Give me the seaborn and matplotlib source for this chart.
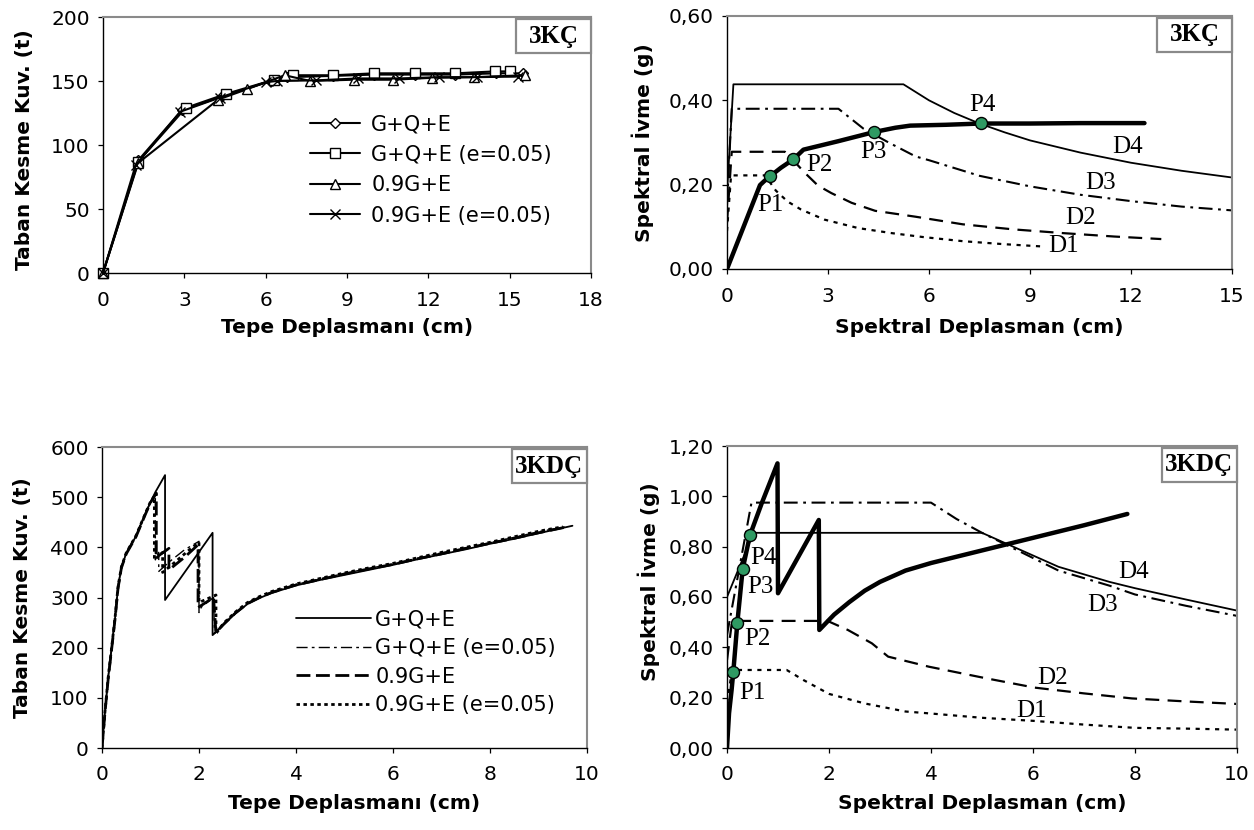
"""
Pushover and capacity-spectrum curves for the 3KÇ and 3KDÇ frames.
"""

import matplotlib
matplotlib.use("Agg")
import matplotlib.pyplot as plt
import matplotlib.ticker as mticker
from matplotlib.patches import Rectangle
import seaborn as sns

# ---------------- 3KÇ : base shear vs roof displacement ----------------
kc_gqe_x = [0, 1.3, 2.9, 4.4, 6.2, 6.8, 8.5, 10.0, 11.5, 13.0, 14.5, 15.5]
kc_gqe_y = [0, 88, 127, 138, 150, 153, 154, 155, 155, 155, 156, 156]
kc_gqe_e_x = [0, 1.3, 3.05, 4.55, 6.3, 7.0, 8.5, 10.0, 11.5, 13.0, 14.45, 15.0]
kc_gqe_e_y = [0, 87, 129, 140, 151, 154.5, 154.5, 156, 156, 156, 157.5, 157.5]
kc_09_x = [0, 1.3, 4.25, 5.3, 6.7, 7.65, 9.25, 10.7, 12.15, 13.7, 15.55]
kc_09_y = [0, 86, 135.5, 143.5, 154.5, 150, 151, 151, 152.5, 153, 154.5]
kc_09_e_x = [0, 1.2, 2.85, 4.3, 6.0, 6.4, 7.85, 9.4, 10.9, 12.4, 13.8, 15.3]
kc_09_e_y = [0, 84, 126, 137, 149, 150, 150.5, 152, 152, 153, 153, 153.5]

# ---------------- 3KÇ : capacity spectrum ----------------
kc_d4_x = [0, 0.19, 5.24, 6.0, 6.75, 7.5, 8.25, 9.0, 10.5, 12.0, 13.5, 15.0]
kc_d4_y = [0.18, 0.438, 0.438, 0.400, 0.370, 0.345, 0.324, 0.305, 0.276, 0.252, 0.233, 0.217]
kc_d3_x = [0, 0.14, 3.31, 3.5, 4.05, 4.8, 5.6, 6.0, 7.5, 9.0, 10.5, 12.0, 13.5, 15.0]
kc_d3_y = [0.15, 0.380, 0.380, 0.368, 0.333, 0.300, 0.267, 0.258, 0.221, 0.196, 0.176, 0.161, 0.148, 0.139]
kc_d2_x = [0, 0.14, 1.72, 2.0, 2.3, 2.7, 3.1, 3.7, 4.4, 5.6, 7.0, 8.5, 10.0, 11.5, 12.9]
kc_d2_y = [0.11, 0.278, 0.278, 0.255, 0.229, 0.198, 0.180, 0.157, 0.138, 0.124, 0.106, 0.094, 0.085, 0.077, 0.071]
kc_d1_x = [0, 0.12, 1.13, 1.45, 1.8, 2.2, 2.9, 3.9, 4.9, 5.8, 7.0, 8.2, 9.46]
kc_d1_y = [0.09, 0.222, 0.222, 0.186, 0.160, 0.141, 0.117, 0.097, 0.085, 0.076, 0.066, 0.059, 0.053]
kc_cap_x = [0, 0.98, 1.1, 1.28, 1.6, 1.97, 2.27, 3.3, 4.38, 5.0, 5.44, 6.5, 7.54, 9.0, 10.5, 12.4]
kc_cap_y = [0, 0.199, 0.208, 0.220, 0.240, 0.260, 0.283, 0.303, 0.325, 0.335, 0.340, 0.342, 0.345, 0.345, 0.346, 0.346]
kc_pt_x = [1.28, 1.97, 4.38, 7.54]
kc_pt_y = [0.220, 0.260, 0.325, 0.346]

# ---------------- 3KDÇ : base shear vs roof displacement ----------------
kdc_s1_x = [0, 0.06, 0.13, 0.2, 0.27, 0.33, 0.4, 0.5, 0.6, 0.7, 0.8, 0.9, 1.0, 1.1, 1.2, 1.3,
            1.3, 1.6, 1.9, 2.28, 2.28, 2.5, 2.75, 3.0, 3.25, 3.5, 4.0, 4.5, 5.0, 5.5, 6.0,
            6.5, 7.0, 7.5, 8.0, 8.5, 9.0, 9.7]
kdc_s1_y = [0, 70, 142, 200, 260, 320, 360, 388, 405, 422, 445, 468, 490, 510, 527, 544,
            295, 336, 377, 429, 225, 245, 268, 287, 299, 309, 324, 335, 345, 355, 365,
            376, 386, 396, 407, 417, 428, 443]
kdc_s2_x = [0, 0.06, 0.13, 0.2, 0.27, 0.33, 0.4, 0.5, 0.6, 0.7, 0.8, 0.9, 1.0, 1.1,
            1.1, 1.17, 1.17, 1.4, 1.7, 2.0, 2.0, 2.05, 2.3, 2.32, 2.5, 2.75, 3.0, 3.25,
            3.5, 4.0, 4.5, 5.0, 5.5, 6.0, 6.5, 7.0, 7.5, 8.0, 8.5, 9.0, 9.6]
kdc_s2_y = [0, 72, 145, 203, 262, 322, 362, 390, 407, 424, 447, 470, 490, 506,
            375, 390, 352, 372, 395, 412, 270, 281, 300, 228, 247, 270, 289, 301,
            311, 326, 337, 348, 358, 367, 378, 389, 399, 409, 420, 431, 442]
kdc_s3_x = [0, 0.06, 0.13, 0.2, 0.27, 0.33, 0.4, 0.5, 0.6, 0.7, 0.8, 0.9, 1.0, 1.12,
            1.12, 1.38, 1.38, 1.7, 1.98, 1.98, 2.3, 2.35, 2.5, 2.75, 3.0, 3.25, 3.5,
            4.0, 4.5, 5.0, 5.5, 6.0, 6.5, 7.0, 7.5, 8.0, 8.5, 9.0, 9.6]
kdc_s3_y = [0, 69, 140, 198, 258, 318, 359, 387, 404, 421, 444, 467, 489, 508,
            380, 398, 355, 380, 405, 280, 300, 230, 246, 269, 288, 300, 310,
            325, 336, 347, 357, 366, 377, 387, 398, 408, 418, 429, 441]
kdc_s4_x = [0, 0.06, 0.13, 0.2, 0.27, 0.33, 0.4, 0.5, 0.6, 0.7, 0.8, 0.9, 1.0, 1.08,
            1.08, 1.25, 1.25, 1.5, 1.8, 2.0, 2.0, 2.35, 2.35, 2.5, 2.75, 3.0, 3.25, 3.5,
            4.0, 4.5, 5.0, 5.5, 6.0, 6.5, 7.0, 7.5, 8.0, 8.5, 9.0, 9.5]
kdc_s4_y = [0, 71, 143, 201, 261, 321, 361, 389, 406, 423, 446, 469, 491, 502,
            375, 390, 350, 370, 395, 410, 290, 305, 228, 248, 271, 290, 302, 312,
            327, 338, 349, 359, 368, 379, 390, 400, 410, 421, 432, 441]

# ---------------- 3KDÇ : capacity spectrum ----------------
kdc_d4_x = [0, 0.52, 5.0, 5.5, 6.0, 6.5, 7.0, 7.5, 8.0, 9.0, 10.0]
kdc_d4_y = [0.60, 0.855, 0.855, 0.81, 0.765, 0.72, 0.69, 0.66, 0.635, 0.59, 0.546]
kdc_d3_x = [0, 0.48, 4.0, 4.5, 5.0, 5.5, 6.0, 6.5, 7.0, 7.5, 8.0, 9.0, 10.0]
kdc_d3_y = [0.45, 0.975, 0.975, 0.91, 0.855, 0.805, 0.755, 0.705, 0.675, 0.645, 0.61, 0.565, 0.525]
kdc_d2_x = [0, 0.1, 1.97, 2.37, 2.84, 3.16, 3.96, 5.08, 6.03, 7.0, 7.94, 9.0, 10.0]
kdc_d2_y = [0.35, 0.505, 0.505, 0.469, 0.416, 0.363, 0.323, 0.277, 0.240, 0.217, 0.197, 0.185, 0.175]
kdc_d1_x = [0, 0.1, 1.17, 1.5, 2.0, 2.7, 3.5, 4.0, 5.0, 6.0, 7.0, 8.0, 9.0, 10.0]
kdc_d1_y = [0.18, 0.31, 0.31, 0.27, 0.215, 0.177, 0.145, 0.137, 0.12, 0.108, 0.093, 0.08, 0.077, 0.073]
kdc_cap_x = [0, 0.04, 0.09, 0.124, 0.203, 0.307, 0.451, 0.68, 0.99, 1.0, 1.80, 1.81, 2.1,
             2.4, 2.7, 3.0, 3.5, 4.0, 5.0, 6.0, 7.0, 7.85]
kdc_cap_y = [0, 0.138, 0.23, 0.303, 0.498, 0.711, 0.846, 0.972, 1.131, 0.615, 0.906, 0.469,
             0.53, 0.58, 0.625, 0.66, 0.705, 0.735, 0.785, 0.835, 0.885, 0.93]
kdc_pt_x = [0.124, 0.203, 0.307, 0.451]
kdc_pt_y = [0.303, 0.498, 0.711, 0.846]

legend_labels = ["G+Q+E", "G+Q+E (e=0.05)", "0.9G+E", "0.9G+E (e=0.05)"]
p_names = ["P1", "P2", "P3", "P4"]
d_names = ["D1", "D2", "D3", "D4"]

# ---------------- style ----------------
sns.set_theme(style="white", rc={"text.color": "black", "axes.labelcolor": "black",
                                 "xtick.color": "black", "ytick.color": "black"})
plt.rcParams["font.family"] = ["DejaVu Sans"]
plt.rcParams["lines.scale_dashes"] = False
plt.rcParams["axes.unicode_minus"] = False
SERIF = ["Liberation Serif", "DejaVu Serif"]
GREEN = "#2f9a63"
W, H = 1254, 830

fig = plt.figure(figsize=(W / 100, H / 100), dpi=100)


def make_axes(l, t, r, b):
    # pixel box -> figure fraction
    return fig.add_axes([l / W, 1 - b / H, (r - l) / W, (b - t) / H])


ax_tl = make_axes(103, 17, 591, 273)
ax_tr = make_axes(727, 16, 1232, 269)
ax_bl = make_axes(102, 447, 587, 748)
ax_br = make_axes(727, 446, 1237, 748)


def style_axes(ax, xlim, ylim, xticks, yticks, comma=False):
    ax.set_xlim(*xlim)
    ax.set_ylim(*ylim)
    ax.set_xticks(xticks)
    ax.set_yticks(yticks)
    if comma:
        ax.yaxis.set_major_formatter(
            mticker.FuncFormatter(lambda v, p: f"{v:.2f}".replace(".", ",")))
    for s in ["left", "bottom"]:
        ax.spines[s].set_color("black")
        ax.spines[s].set_linewidth(1.0)
    for s in ["top", "right"]:
        ax.spines[s].set_color("#8a8a8a")
        ax.spines[s].set_linewidth(1.5)
    ax.tick_params(axis="both", direction="out", length=3.6, width=0.9,
                   labelsize=14.5, colors="black", bottom=True, left=True)
    ax.tick_params(axis="x", pad=9)
    ax.tick_params(axis="y", pad=6)


def tag(ax, text):
    bb = ax.get_position()
    aw, ah = bb.width * W, bb.height * H
    wf, hf, off = 75 / aw, 34 / ah, 2 / ah
    ax.add_patch(Rectangle((1 - wf, 1 - off - hf), wf, hf, transform=ax.transAxes,
                           facecolor="white", edgecolor="#8a8a8a", lw=1.6,
                           clip_on=False, zorder=6))
    ax.text(1 - wf / 2, 1 - off - hf / 2, text, transform=ax.transAxes,
            ha="center", va="center", fontsize=18, fontweight="bold",
            family=SERIF, color="black", zorder=7)


def line(ax, x, y, **kw):
    sns.lineplot(x=x, y=y, ax=ax, sort=False, estimator=None, color="black", **kw)


def point_labels(ax, names, spots):
    for name, (tx, ty) in zip(names, spots):
        ax.text(tx, ty, name, ha="center", va="center", fontsize=18,
                family=SERIF, color="black")


# ---------------- top left ----------------
mk = dict(mfc="white", mec="black", mew=1.0, lw=1.5, clip_on=False)
line(ax_tl, kc_gqe_x, kc_gqe_y, marker="D", ms=5, label=legend_labels[0], **mk)
line(ax_tl, kc_gqe_e_x, kc_gqe_e_y, marker="s", ms=6.5, label=legend_labels[1], **mk)
line(ax_tl, kc_09_x, kc_09_y, marker="^", ms=7, label=legend_labels[2], **mk)
line(ax_tl, kc_09_e_x, kc_09_e_y, marker="x", ms=6.5, label=legend_labels[3], **mk)
style_axes(ax_tl, (0, 18), (0, 200), range(0, 19, 3), range(0, 201, 50))
ax_tl.legend(loc="upper left", bbox_to_anchor=(0.424, 0.62), frameon=False,
             fontsize=15, handlelength=2.4, handletextpad=0.55, labelspacing=0.5,
             borderpad=0, borderaxespad=0)
ax_tl.set_xlabel("Tepe Deplasmanı (cm)", fontsize=14.5, fontweight="bold")
ax_tl.set_ylabel("Taban Kesme Kuv. (t)", fontsize=14.5, fontweight="bold")
ax_tl.xaxis.set_label_coords(0.5, -0.176)
ax_tl.yaxis.set_label_coords(-0.141, 0.482)
tag(ax_tl, "3KÇ")

# ---------------- top right ----------------
line(ax_tr, kc_d4_x, kc_d4_y, lw=1.3)
line(ax_tr, kc_d3_x, kc_d3_y, lw=1.5, linestyle=(0, (10, 4, 2, 4)))
line(ax_tr, kc_d2_x, kc_d2_y, lw=1.6, linestyle=(0, (10, 6)))
line(ax_tr, kc_d1_x, kc_d1_y, lw=1.6, linestyle=(0, (3, 4)))
line(ax_tr, kc_cap_x, kc_cap_y, lw=3.2)
sns.scatterplot(x=kc_pt_x, y=kc_pt_y, ax=ax_tr, s=75, color=GREEN,
                edgecolor="black", linewidth=1.0, zorder=5)
style_axes(ax_tr, (0, 15), (0, 0.6), range(0, 16, 3), [0, 0.2, 0.4, 0.6], comma=True)
point_labels(ax_tr, p_names, [(1.3, 0.152), (2.74, 0.246), (4.35, 0.278), (7.6, 0.39)])
point_labels(ax_tr, d_names, [(10.0, 0.055), (10.5, 0.122), (11.1, 0.205), (11.9, 0.29)])
ax_tr.set_xlabel("Spektral Deplasman (cm)", fontsize=14.5, fontweight="bold")
ax_tr.set_ylabel("Spektral İvme (g)", fontsize=14.5, fontweight="bold")
ax_tr.xaxis.set_label_coords(0.5, -0.194)
ax_tr.yaxis.set_label_coords(-0.145, 0.5)
tag(ax_tr, "3KÇ")

# ---------------- bottom left ----------------
line(ax_bl, kdc_s1_x, kdc_s1_y, lw=1.3, label=legend_labels[0])
line(ax_bl, kdc_s2_x, kdc_s2_y, lw=1.0, linestyle=(0, (8, 3, 2, 3)), label=legend_labels[1])
line(ax_bl, kdc_s3_x, kdc_s3_y, lw=2.0, linestyle=(0, (10, 4)), label=legend_labels[2])
line(ax_bl, kdc_s4_x, kdc_s4_y, lw=2.0, linestyle=(0, (2.5, 2.5)), label=legend_labels[3])
style_axes(ax_bl, (0, 10), (0, 600), range(0, 11, 2), range(0, 601, 100))
ax_bl.legend(loc="upper left", bbox_to_anchor=(0.40, 0.46), frameon=False,
             fontsize=15, handlelength=3.6, handletextpad=0.2, labelspacing=0.41,
             borderpad=0, borderaxespad=0)
ax_bl.set_xlabel("Tepe Deplasmanı (cm)", fontsize=14.5, fontweight="bold")
ax_bl.set_ylabel("Taban Kesme Kuv. (t)", fontsize=14.5, fontweight="bold")
ax_bl.xaxis.set_label_coords(0.52, -0.152)
ax_bl.yaxis.set_label_coords(-0.144, 0.5)
tag(ax_bl, "3KDÇ")

# ---------------- bottom right ----------------
line(ax_br, kdc_d4_x, kdc_d4_y, lw=1.3)
line(ax_br, kdc_d3_x, kdc_d3_y, lw=1.5, linestyle=(0, (10, 4, 2, 4)))
line(ax_br, kdc_d2_x, kdc_d2_y, lw=1.6, linestyle=(0, (10, 6)))
line(ax_br, kdc_d1_x, kdc_d1_y, lw=1.6, linestyle=(0, (3, 4)))
line(ax_br, kdc_cap_x, kdc_cap_y, lw=3.2)
sns.scatterplot(x=kdc_pt_x, y=kdc_pt_y, ax=ax_br, s=75, color=GREEN,
                edgecolor="black", linewidth=1.0, zorder=5)
style_axes(ax_br, (0, 10), (0, 1.2), range(0, 11, 2),
           [0, 0.2, 0.4, 0.6, 0.8, 1.0, 1.2], comma=True)
point_labels(ax_br, p_names, [(0.5, 0.22), (0.6, 0.435), (0.66, 0.64), (0.71, 0.753)])
point_labels(ax_br, d_names, [(5.97, 0.148), (6.39, 0.28), (7.37, 0.57), (7.97, 0.70)])
ax_br.set_xlabel("Spektral Deplasman (cm)", fontsize=14.5, fontweight="bold")
ax_br.set_ylabel("Spektral İvme (g)", fontsize=14.5, fontweight="bold")
ax_br.xaxis.set_label_coords(0.5, -0.152)
ax_br.yaxis.set_label_coords(-0.131, 0.55)
tag(ax_br, "3KDÇ")

fig.savefig("out.png", dpi=100)
